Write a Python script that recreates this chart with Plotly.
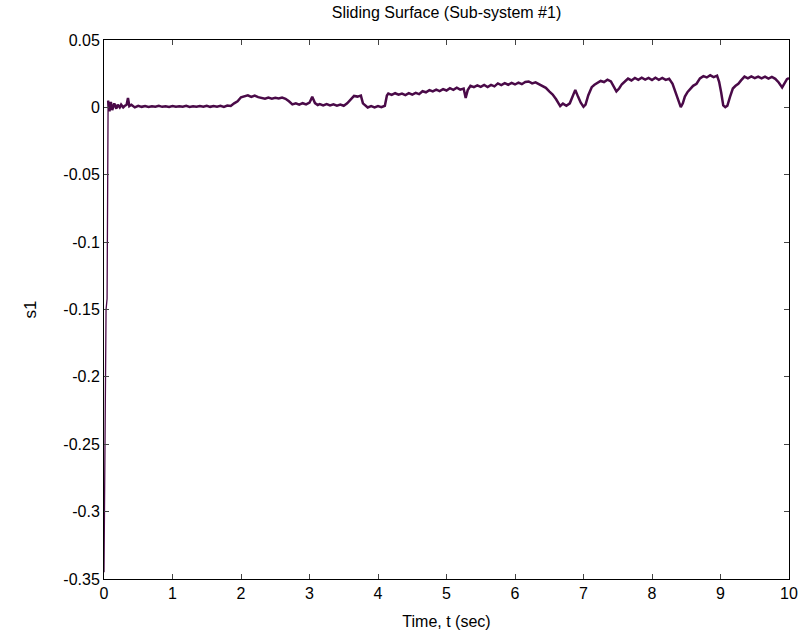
import plotly.graph_objects as go

t = [0, 0.01, 0.03, 0.045, 0.06, 0.08, 0.10, 0.12, 0.15, 0.18, 0.20, 0.23, 0.25, 0.28, 0.30, 0.33, 0.35, 0.37, 0.40, 0.45,
     0.50, 0.55, 0.60, 0.65, 0.70, 0.75, 0.80, 0.85, 0.90, 0.95, 1.00, 1.05, 1.10, 1.15, 1.20, 1.25, 1.30, 1.35, 1.40, 1.45,
     1.50, 1.55, 1.60, 1.65, 1.70, 1.75, 1.80, 1.85, 1.90, 1.95, 2.00, 2.05, 2.10, 2.15, 2.20, 2.25, 2.30, 2.35, 2.40, 2.45,
     2.50, 2.55, 2.60, 2.65, 2.70, 2.75, 2.80, 2.85, 2.90, 2.95, 3.00, 3.04, 3.08, 3.12, 3.15, 3.20, 3.25, 3.30, 3.35, 3.40,
     3.45, 3.50, 3.55, 3.60, 3.65, 3.70, 3.75, 3.78, 3.82, 3.85, 3.90, 3.95, 4.00, 4.05, 4.10, 4.13, 4.15, 4.20, 4.25, 4.30,
     4.35, 4.40, 4.45, 4.50, 4.55, 4.60, 4.65, 4.70, 4.75, 4.80, 4.85, 4.90, 4.95, 5.00, 5.05, 5.10, 5.15, 5.20, 5.25, 5.28,
     5.31, 5.35, 5.40, 5.45, 5.50, 5.55, 5.60, 5.65, 5.70, 5.75, 5.80, 5.85, 5.90, 5.95, 6.00, 6.05, 6.10, 6.15, 6.20, 6.25,
     6.30, 6.35, 6.40, 6.45, 6.50, 6.55, 6.60, 6.63, 6.66, 6.70, 6.75, 6.80, 6.85, 6.88, 6.92, 6.96, 7.00, 7.03, 7.07, 7.12,
     7.16, 7.20, 7.25, 7.30, 7.35, 7.40, 7.44, 7.48, 7.52, 7.56, 7.60, 7.65, 7.70, 7.75, 7.80, 7.85, 7.90, 7.95, 8.00, 8.05,
     8.10, 8.15, 8.20, 8.25, 8.30, 8.34, 8.38, 8.42, 8.45, 8.48, 8.52, 8.56, 8.60, 8.65, 8.70, 8.75, 8.80, 8.85, 8.90, 8.95,
     8.98, 9.01, 9.04, 9.07, 9.10, 9.14, 9.18, 9.22, 9.26, 9.30, 9.35, 9.40, 9.45, 9.50, 9.55, 9.60, 9.65, 9.70, 9.75, 9.80,
     9.85, 9.90, 9.94, 9.97, 10.00]

s1 = [-0.345, -0.29, -0.15, -0.142, 0.005, -0.003, 0.004, -0.002, 0.003, -0.001, 0.002, 0.000, 0.002, 0.000, 0.001, 0.002, 0.007, 0.001, 0.002, 0.000,
      0.0012, 0.0004, 0.0010, 0.0003, 0.0009, 0.0005, 0.0011, 0.0004, 0.0008, 0.0003, 0.0010, 0.0004, 0.0009, 0.0005, 0.0011, 0.0003, 0.0009, 0.0004, 0.0010, 0.0005,
      0.0012, 0.0004, 0.0010, 0.0005, 0.0011, 0.0003, 0.0013, 0.0010, 0.0030, 0.0045, 0.0075, 0.0082, 0.0090, 0.0078, 0.0088, 0.0076, 0.0070, 0.0064, 0.0072, 0.0065,
      0.0071, 0.0066, 0.0073, 0.0064, 0.0045, 0.0022, 0.0030, 0.0020, 0.0031, 0.0022, 0.0035, 0.0078, 0.0032, 0.0018, 0.0025, 0.0015, 0.0024, 0.0014, 0.0022, 0.0013,
      0.0021, 0.0012, 0.0030, 0.0055, 0.0085, 0.0080, 0.0087, 0.0030, 0.0008, -0.0001, 0.0009, 0.0000, 0.0010, 0.0001, 0.0012, 0.0088, 0.0102, 0.0092, 0.0105, 0.0094,
      0.0103, 0.0091, 0.0106, 0.0095, 0.0108, 0.0098, 0.0120, 0.0112, 0.0128, 0.0118, 0.0132, 0.0121, 0.0135, 0.0125, 0.0142, 0.0130, 0.0146, 0.0132, 0.0140, 0.0070,
      0.0128, 0.0160, 0.0150, 0.0163, 0.0152, 0.0166, 0.0151, 0.0167, 0.0156, 0.0178, 0.0166, 0.0180, 0.0168, 0.0182, 0.0170, 0.0184, 0.0172, 0.0188, 0.0192, 0.0178,
      0.0186, 0.0174, 0.0158, 0.0145, 0.0118, 0.0095, 0.0060, 0.0030, 0.0010, 0.0028, 0.0012, 0.0030, 0.0095, 0.0130, 0.0080, 0.0035, 0.0005, 0.0020, 0.0090, 0.0150,
      0.0168, 0.0182, 0.0196, 0.0188, 0.0205, 0.0192, 0.0160, 0.0118, 0.0140, 0.0172, 0.0190, 0.0214, 0.0200, 0.0218, 0.0204, 0.0220, 0.0206, 0.0219, 0.0203, 0.0220,
      0.0205, 0.0218, 0.0204, 0.0212, 0.0175, 0.0120, 0.0060, 0.0002, 0.0030, 0.0080, 0.0115, 0.0142, 0.0160, 0.0175, 0.0215, 0.0232, 0.0222, 0.0238, 0.0225, 0.0236,
      0.0190, 0.0110, 0.0015, 0.0002, 0.0012, 0.0080, 0.0140, 0.0160, 0.0175, 0.0200, 0.0228, 0.0215, 0.0230, 0.0217, 0.0229, 0.0216, 0.0228, 0.0214, 0.0226, 0.0212,
      0.0185, 0.0148, 0.0190, 0.0210, 0.0218]

x_ticks = [0, 1, 2, 3, 4, 5, 6, 7, 8, 9, 10]
y_ticks = [0.05, 0, -0.05, -0.1, -0.15, -0.2, -0.25, -0.3, -0.35]
y_tick_labels = ["0.05", "0", "-0.05", "-0.1", "-0.15", "-0.2", "-0.25", "-0.3", "-0.35"]

# initial fast transient (drawn thin) vs. the sliding phase (noisy band)
n_transient = 5

FONT = "Arial, Liberation Sans, sans-serif"
LINE_COLOR = "#4a0a48"

fig = go.Figure()
fig.add_trace(go.Scatter(x=t[:n_transient], y=s1[:n_transient], mode="lines",
                         line=dict(color=LINE_COLOR, width=1.3), showlegend=False))
fig.add_trace(go.Scatter(x=t[n_transient - 1:], y=s1[n_transient - 1:], mode="lines",
                         line=dict(color=LINE_COLOR, width=2.5), showlegend=False))

fig.update_layout(
    width=802, height=641,
    margin=dict(l=104, r=13, t=40, b=62, autoexpand=False),
    paper_bgcolor="white", plot_bgcolor="white",
    font=dict(family=FONT, size=16, color="black"),
    title=dict(text="Sliding Surface (Sub-system #1)", x=0.5, xref="paper",
               xanchor="center",
               y=1 - 12 / 641, yref="container", yanchor="middle",
               font=dict(family=FONT, size=16, color="black")),
)
fig.update_xaxes(range=[0, 10], tickvals=x_ticks, ticks="inside", ticklen=5,
                 showline=True, linecolor="black", linewidth=1, mirror="ticks",
                 showgrid=False, zeroline=False, automargin=False,
                 title=dict(text="Time, t (sec)", standoff=14, font=dict(size=16)),
                 tickfont=dict(size=16))
fig.update_yaxes(range=[-0.35, 0.05], tickvals=y_ticks, ticktext=y_tick_labels,
                 ticks="inside", ticklen=5,
                 showline=True, linecolor="black", linewidth=1, mirror="ticks",
                 showgrid=False, zeroline=False, automargin=False,
                 title=dict(text="s1", standoff=22, font=dict(size=17)),
                 tickfont=dict(size=16))

fig.write_html("out.html")
